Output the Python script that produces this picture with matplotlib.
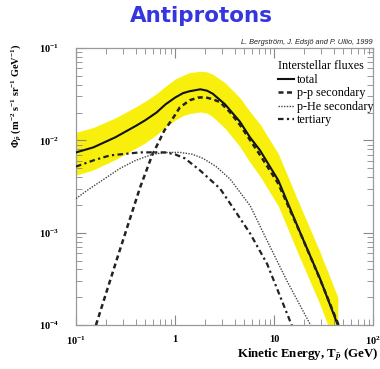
#!/usr/bin/env python3
"""
Interstellar antiproton fluxes (Bergstrom, Edsjo & Ullio 1999), redrawn.
"""

import matplotlib

matplotlib.use("Agg")
import matplotlib.pyplot as plt
from matplotlib.ticker import LogLocator, NullFormatter

plt.rcParams["font.family"] = ["Liberation Serif", "DejaVu Serif"]
plt.rcParams["mathtext.fontset"] = "custom"
plt.rcParams["mathtext.rm"] = "Liberation Serif:bold"
plt.rcParams["mathtext.it"] = "Liberation Serif:italic:bold"
plt.rcParams["mathtext.bf"] = "Liberation Serif:bold"

# total flux and its uncertainty band
t_total = [0.1, 0.15, 0.25, 0.4, 0.5, 0.65, 0.8, 1.0, 1.2, 1.4, 1.8, 2.1, 2.4, 3.2,
           4.5, 5.7, 7.2, 11, 18, 29, 44]
phi_total = [7.4e-3, 8.4e-3, 1.08e-2, 1.43e-2, 1.65e-2, 2.0e-2, 2.45e-2, 2.9e-2,
             3.24e-2, 3.4e-2, 3.57e-2, 3.45e-2, 3.2e-2, 2.45e-2, 1.6e-2, 1.08e-2,
             7.8e-3, 3.7e-3, 1.05e-3, 3.2e-4, 1.0e-4]
band_hi = [1.22e-2, 1.38e-2, 1.75e-2, 2.3e-2, 2.65e-2, 3.2e-2, 3.85e-2, 4.6e-2,
           5.05e-2, 5.4e-2, 5.6e-2, 5.5e-2, 5.2e-2, 4.2e-2, 2.9e-2, 2.05e-2,
           1.5e-2, 7.2e-3, 2.05e-3, 6.2e-4, 2.0e-4]
band_lo = [4.2e-3, 4.8e-3, 6.2e-3, 8.2e-3, 9.4e-3, 1.15e-2, 1.4e-2, 1.65e-2,
           1.85e-2, 1.95e-2, 2.03e-2, 1.97e-2, 1.8e-2, 1.35e-2, 8.6e-3, 5.8e-3,
           4.1e-3, 1.95e-3, 5.5e-4, 1.68e-4, 5.2e-5]

# p-p secondary
t_pp = [0.159, 0.265, 0.443, 0.586, 0.78, 0.95, 1.12, 1.41, 1.7, 2.0, 2.4, 2.85,
        3.6, 4.54, 7.23, 11, 18.3, 29.2, 46]
phi_pp = [1.0e-4, 5.6e-4, 3.08e-3, 6.87e-3, 1.28e-2, 1.73e-2, 2.28e-2, 2.72e-2,
          2.9e-2, 2.93e-2, 2.79e-2, 2.59e-2, 2.01e-2, 1.46e-2, 6.9e-3, 3.41e-3,
          1.0e-3, 3.1e-4, 9.3e-5]

# p-He secondary
t_phe = [0.1, 0.129, 0.278, 0.4, 0.6, 0.85, 1.12, 1.5, 1.92, 2.6, 3.6, 5.73, 8.5,
         13.5, 23.7]
phi_phe = [2.34e-3, 2.86e-3, 4.97e-3, 6.07e-3, 7.1e-3, 7.4e-3, 7.41e-3, 7.06e-3,
           6.37e-3, 5.2e-3, 3.8e-3, 1.96e-3, 8.2e-4, 3.0e-4, 9.7e-5]

# tertiary
t_ter = [0.1, 0.15, 0.22, 0.3, 0.44, 0.79, 1.0, 1.26, 1.79, 2.85, 4.0, 5.73, 8.5, 15.2]
phi_ter = [5.2e-3, 6.07e-3, 6.87e-3, 7.1e-3, 7.41e-3, 7.41e-3, 7.05e-3, 6.37e-3,
           4.72e-3, 3.0e-3, 1.75e-3, 9.8e-4, 4.6e-4, 9.7e-5]

x_major = [0.1, 1, 10, 100]
x_major_labels = [r"$10^{-1}$", "1", "10", r"$10^{2}$"]
y_major = [1e-4, 1e-3, 1e-2, 1e-1]
y_major_labels = [r"$10^{-4}$", r"$10^{-3}$", r"$10^{-2}$", r"$10^{-1}$"]


def main():
    fig = plt.figure(figsize=(3.8, 3.69), dpi=100)
    ax = fig.add_axes([0.2, 0.119, 0.782, 0.751])

    ax.fill_between(t_total, band_lo, band_hi, color="#f8f00c", lw=0, zorder=1)
    ax.plot(t_total, phi_total, color="#111111", lw=1.5, ls="-", label="total", zorder=3)
    ax.plot(t_pp, phi_pp, color="#222222", lw=1.8, ls=(0, (2.0, 1.4)), label="p-p secondary", zorder=3)
    ax.plot(t_phe, phi_phe, color="#444444", lw=1.0, ls=(0, (1.0, 1.0)), label="p-He secondary", zorder=3)
    ax.plot(t_ter, phi_ter, color="#222222", lw=1.6, ls=(0, (2.5, 1.5, 1.0, 1.5)), label="tertiary", zorder=3)

    ax.set_xscale("log")
    ax.set_yscale("log")
    ax.set_xlim(0.1, 100)
    ax.set_ylim(1e-4, 1e-1)

    ax.set_xticks(x_major, labels=x_major_labels)
    ax.set_yticks(y_major, labels=y_major_labels)
    ax.xaxis.set_minor_locator(LogLocator(base=10, subs=range(2, 10)))
    ax.yaxis.set_minor_locator(LogLocator(base=10, subs=range(2, 10)))
    ax.xaxis.set_minor_formatter(NullFormatter())
    ax.yaxis.set_minor_formatter(NullFormatter())
    ax.tick_params(which="both", direction="in", top=True, right=True, color="#888888")
    ax.tick_params(which="major", length=7, width=0.8)
    ax.tick_params(which="minor", length=4, width=0.6)
    ax.tick_params(axis="x", which="major", pad=7, labelsize=7.5)
    ax.tick_params(axis="y", which="major", pad=12, labelsize=7.5)
    for lab in ax.get_xticklabels() + ax.get_yticklabels():
        lab.set_fontweight("bold")
    for sp in ax.spines.values():
        sp.set_color("#999999")
        sp.set_linewidth(0.9)

    leg = ax.legend(
        title="Interstellar fluxes",
        loc="upper left",
        bbox_to_anchor=(0.68, 0.955),
        frameon=False,
        fontsize=8.7,
        title_fontsize=8.7,
        handlelength=1.35,
        handletextpad=0.2,
        labelspacing=0.12,
        borderaxespad=0,
        borderpad=0,
    )
    leg._legend_box.align = "left"

    ax.text(0.997, 1.006, "L. Bergström, J. Edsjö and P. Ullio, 1999",
            transform=ax.transAxes, ha="right", va="bottom",
            fontsize=5.3, style="italic", family=["Liberation Sans", "DejaVu Sans"],
            color="#222222")

    fig.text(201 / 380, 1 - 16 / 369, "Antiprotons", ha="center", va="center",
             fontsize=15.5, fontweight="bold", color="#3636e0",
             family=["DejaVu Sans"])

    fig.text(17 / 380, 1 - 96 / 369,
             r"$\Phi_{\bar{p}}$ (m$^{-2}$ s$^{-1}$ sr$^{-1}$ GeV$^{-1}$)",
             rotation=90, ha="center", va="center", fontsize=7.4, fontweight="bold")

    fig.text(379 / 380, 1 - 355 / 369, r"Kinetic Energy, T$_{\bar{p}}$ (GeV)",
             ha="right", va="center", fontsize=9.3, fontweight="bold")

    fig.savefig("out.png", dpi=100)
    plt.close(fig)


if __name__ == "__main__":
    main()
